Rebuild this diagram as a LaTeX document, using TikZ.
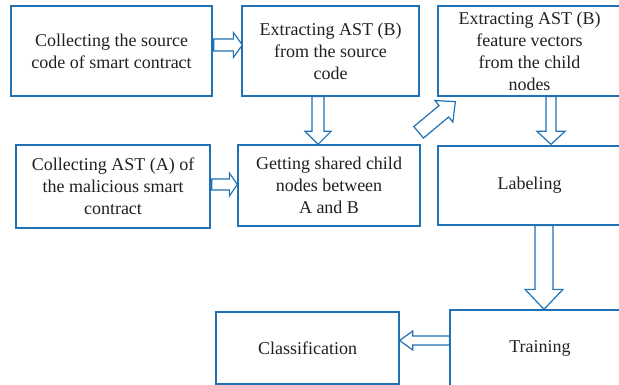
\documentclass[tikz,border=0pt]{standalone}
\usepackage{fontspec}
\setmainfont{Liberation Serif}
\usepackage{xcolor}
\usepackage{tikz}
\usetikzlibrary{calc}
\definecolor{boxblue}{RGB}{33,113,181}
\definecolor{txtgray}{RGB}{35,31,32}
% hollow block arrow: from, to, shaft half width, head half width, head length
\newcommand{\blockarrow}[5]{%
  \coordinate (ba-h) at ($(#2)!#5!(#1)$);
  \draw[barr] ($(#1)!#3!90:(#2)$) -- ($(ba-h)!#3!-90:(#1)$) -- ($(ba-h)!#4!-90:(#1)$) -- (#2)
    -- ($(ba-h)!#4!90:(#1)$) -- ($(ba-h)!#3!90:(#1)$) -- ($(#1)!#3!-90:(#2)$) -- cycle;}

\begin{document}
\begin{tikzpicture}[x=1pt,y=-1pt,
  font=\fontsize{18}{22}\selectfont,
  box/.style={draw=boxblue,line width=1.3pt,text=txtgray,align=center,inner sep=2pt},
  barr/.style={draw=boxblue,line width=1.2pt,fill=white,line join=miter}]
\useasboundingbox (0,0) rectangle (619,385);
\clip (0,0) rectangle (619,385);
\node[box,minimum width=201pt,minimum height=90pt] (src) at (111.5,51) {Collecting the source\\code of smart contract};
\node[box,minimum width=177pt,minimum height=90pt] (astb) at (330.5,51) {Extracting AST (B)\\from the source\\code};
\node[box,minimum width=183pt,minimum height=90pt] (feat) at (529.5,51) {Extracting AST (B)\\feature vectors\\from the child\\nodes};
\node[box,minimum width=194pt,minimum height=83pt] (asta) at (113,186.5) {Collecting AST (A) of\\the malicious smart\\contract};
\node[box,minimum width=182pt,minimum height=81pt] (shared) at (329,185.5) {Getting shared child\\nodes between\\A and B};
\node[box,minimum width=183pt,minimum height=79pt] (lab) at (529.5,185.5) {Labeling};
\node[box,minimum width=180pt,minimum height=76pt] (train) at (540,348) {Training};
\node[box,minimum width=183pt,minimum height=72pt] (cls) at (307.5,348) {Classification};
% arrow ends
\coordinate (a1s) at ($(src.east)+(1,-6)$);
\coordinate (a1e) at ($(astb.west)+(1,-6)$);
\coordinate (a2s) at ($(asta.east)+(1,-2)$);
\coordinate (a2e) at ($(shared.west)+(0,-1)$);
\coordinate (a3s) at ($(astb.south)+(-12.5,0)$);
\coordinate (a3e) at ($(shared.north)+(-11,0)$);
\coordinate (a4s) at ($(feat.south)+(21.5,0)$);
\coordinate (a4e) at ($(lab.north)+(21.5,-1)$);
\coordinate (a5s) at ($(lab.south)+(14.5,0)$);
\coordinate (a5e) at ($(train.north)+(4,0)$);
\coordinate (a6s) at ($(train.west)+(0,-7.5)$);
\coordinate (a6e) at ($(cls.east)+(0,-7.5)$);
\coordinate (a7s) at ($(shared.north east)+(-2,-12)$);
\coordinate (a7e) at ($(feat.south west)+(18,5)$);
\blockarrow{a1s}{a1e}{6pt}{12.5pt}{9pt}
\blockarrow{a2s}{a2e}{5.5pt}{11.5pt}{8pt}
\blockarrow{a3s}{a3e}{6pt}{13pt}{13pt}
\blockarrow{a4s}{a4e}{5pt}{14pt}{13pt}
\blockarrow{a5s}{a5e}{9pt}{19pt}{20pt}
\blockarrow{a6s}{a6e}{4.5pt}{9.5pt}{13pt}
\blockarrow{a7s}{a7e}{7.5pt}{14pt}{15pt}
\end{tikzpicture}
\end{document}
